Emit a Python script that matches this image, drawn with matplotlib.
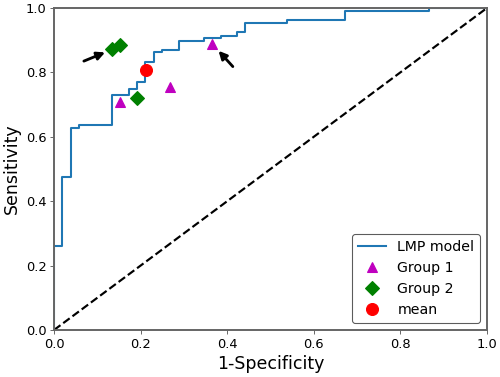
import matplotlib
matplotlib.use("Agg")
import matplotlib.pyplot as plt

# ROC step curve (1-Specificity, Sensitivity)
fpr = [0.0, 0.0, 0.019, 0.019, 0.039, 0.039, 0.058, 0.058, 0.135, 0.135, 0.173, 0.173,
       0.192, 0.192, 0.211, 0.211, 0.231, 0.231, 0.250, 0.250, 0.289, 0.289, 0.346, 0.346,
       0.385, 0.385, 0.423, 0.423, 0.442, 0.442, 0.539, 0.539, 0.673, 0.673, 0.865, 0.865, 1.0]
tpr = [0.0, 0.261, 0.261, 0.476, 0.476, 0.626, 0.626, 0.636, 0.636, 0.730, 0.730, 0.748,
       0.748, 0.769, 0.769, 0.831, 0.831, 0.862, 0.862, 0.870, 0.870, 0.898, 0.898, 0.908,
       0.908, 0.914, 0.914, 0.926, 0.926, 0.954, 0.954, 0.964, 0.964, 0.991, 0.991, 1.0, 1.0]

group1_x = [0.152, 0.268, 0.364]
group1_y = [0.709, 0.754, 0.888]
group2_x = [0.192, 0.135, 0.152]
group2_y = [0.720, 0.872, 0.886]
mean_x = [0.212]
mean_y = [0.806]

arrow_tails = [(0.069, 0.835), (0.413, 0.818)]
arrow_heads = [(0.118, 0.862), (0.380, 0.867)]

fig = plt.figure(figsize=(6.4, 4.826), dpi=78.125)
ax = fig.add_axes([54/500, 47/377, 433/500, 322/377])

ax.plot(fpr, tpr, color='#1f77b4', lw=1.9, label='LMP model')
ax.plot([0, 1], [0, 1], 'k--', lw=2)
ax.plot(group1_x, group1_y, 'm^', ms=10, ls='none', label='Group 1')
ax.plot(group2_x, group2_y, 'gD', ms=9.5, ls='none', label='Group 2')
ax.plot(mean_x, mean_y, 'ro', ms=11, ls='none', label='mean')

for (tx, ty), (hx, hy) in zip(arrow_tails, arrow_heads):
    ax.annotate('', xy=(hx, hy), xytext=(tx, ty),
                arrowprops=dict(arrowstyle='-|>', color='k', lw=2.6,
                                mutation_scale=15, shrinkA=0, shrinkB=0))

ax.set_xlim(0, 1)
ax.set_ylim(0, 1)
ax.set_xlabel('1-Specificity', fontsize=16)
ax.set_ylabel('Sensitivity', fontsize=16)
ax.tick_params(labelsize=12, color='#555555')
for s in ax.spines.values():
    s.set_color('#666666')
    s.set_linewidth(1.8)
leg = ax.legend(loc='lower right', fontsize=13)
leg.get_frame().set_edgecolor('#333333')

fig.savefig('out.png', dpi=78.125)
